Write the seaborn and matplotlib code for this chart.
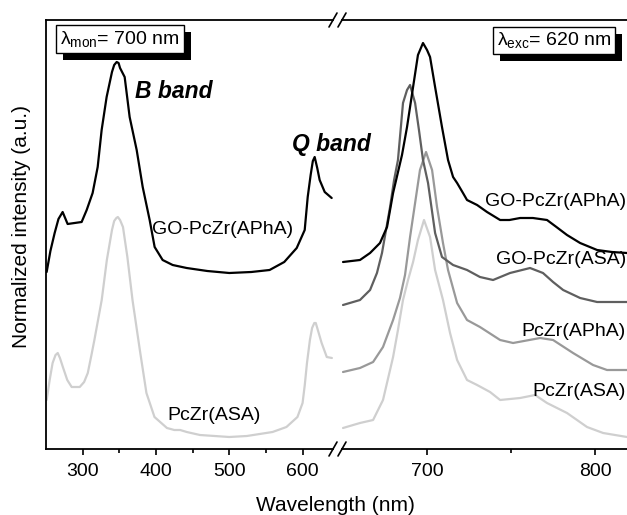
import numpy as np
import pandas as pd
import matplotlib
matplotlib.use('Agg')
import matplotlib.pyplot as plt
import seaborn as sns
from matplotlib import patheffects as pe
from matplotlib.lines import Line2D

# ---------------- data ----------------
# Excitation spectra, left panel (lambda_mon = 700 nm)
exc_go_apha_wl = [250.9, 256, 261.8, 267, 272.7, 279.5, 289, 298.6, 305.5, 313.6, 320.5, 325.9,
                  332.7, 340, 343, 346.4, 349, 351, 357.3, 364.1, 373.7, 381.9, 391.4, 398.2,
                  409.1, 422.8, 441.9, 470, 500, 530, 555, 575, 592, 602.9, 607, 611, 614,
                  616.5, 620, 623.3, 630.2, 639.7]
exc_go_apha = [1.77, 1.98, 2.16, 2.30, 2.37, 2.25, 2.26, 2.27, 2.39, 2.56, 2.82, 3.19,
               3.52, 3.77, 3.84, 3.87, 3.86, 3.81, 3.72, 3.32, 2.99, 2.62, 2.29, 2.02,
               1.89, 1.84, 1.81, 1.78, 1.76, 1.77, 1.79, 1.87, 2.01, 2.19, 2.52, 2.74, 2.88,
               2.92, 2.81, 2.69, 2.57, 2.51]

exc_asa_wl = [250.9, 255, 259, 263, 266, 269, 273, 279, 285, 296, 302, 307, 312, 316, 321, 326,
              333, 340, 343, 346, 348, 351, 355, 361, 368, 378, 387, 398, 415, 425, 433, 442,
              460, 500, 524, 559, 578, 593, 600, 603, 606, 610, 613, 616, 618, 622, 626, 633, 640]
exc_asa = [0.49, 0.69, 0.86, 0.94, 0.96, 0.91, 0.82, 0.69, 0.62, 0.62, 0.67, 0.76, 0.94, 1.09,
           1.29, 1.49, 1.89, 2.19, 2.28, 2.31, 2.32, 2.29, 2.22, 1.92, 1.49, 0.99, 0.56, 0.32,
           0.21, 0.19, 0.19, 0.17, 0.14, 0.12, 0.13, 0.17, 0.22, 0.32, 0.46, 0.64, 0.86, 1.09,
           1.21, 1.26, 1.26, 1.16, 1.06, 0.92, 0.91]

# Emission spectra, right panel (lambda_exc = 620 nm)
em_go_apha_wl = [650.0, 660.1, 666.1, 672.0, 676.2, 679.8, 685.1, 688.1, 691.7, 694.6, 697.6,
                 700.0, 701.8, 704.8, 708.9, 712.5, 715.5, 717.9, 721.4, 723.8, 729.8, 735.7,
                 743.5, 749.0, 755.4, 763.0, 771.4, 777.0, 783.3, 791.1, 801.2, 810.0, 819.0]
em_go_apha = [1.87, 1.89, 1.96, 2.06, 2.22, 2.56, 2.94, 3.22, 3.62, 3.94, 4.06,
              3.99, 3.92, 3.62, 3.22, 2.89, 2.72, 2.66, 2.56, 2.49, 2.44, 2.37,
              2.29, 2.29, 2.31, 2.31, 2.29, 2.22, 2.14, 2.06, 1.99, 1.97, 1.96]

em_go_asa_wl = [650.0, 660.1, 666.1, 670.2, 673.2, 675.6, 678.0, 680.4, 682.7, 685.7, 688.1,
                689.9, 692.9, 695.2, 697.6, 700.6, 704.8, 708.9, 715.5, 723.8, 731.5, 739.3,
                749.4, 761.3, 769.0, 775.0, 781.0, 791.1, 801.2, 819.0]
em_go_asa = [1.44, 1.49, 1.59, 1.76, 1.96, 2.19, 2.42, 2.69, 2.89, 3.46, 3.59,
             3.64, 3.46, 3.19, 2.89, 2.66, 2.16, 1.92, 1.84, 1.79, 1.72, 1.69,
             1.76, 1.81, 1.76, 1.67, 1.59, 1.51, 1.47, 1.47]

em_apha_wl = [650.0, 660.1, 667.9, 673.8, 679.8, 683.9, 686.9, 689.9, 692.9, 695.8, 699.4,
              703.0, 705.95, 709.5, 712.5, 717.9, 723.8, 731.5, 743.5, 751.2, 767.3, 775.0,
              786.9, 798.8, 807.1, 819.0]
em_apha = [0.77, 0.81, 0.87, 1.02, 1.29, 1.51, 1.74, 2.12, 2.46, 2.79, 2.97,
           2.79, 2.42, 2.06, 1.79, 1.46, 1.29, 1.22, 1.09, 1.06, 1.11, 1.09,
           0.96, 0.84, 0.79, 0.79]

em_asa_wl = [650.0, 660.1, 667.9, 673.8, 679.8, 682.7, 685.7, 688.7, 691.7, 694.6, 698.2,
             701.8, 704.8, 709.5, 713.7, 717.9, 723.8, 729.8, 737.5, 743.5, 755.4, 764.3,
             771.4, 783.3, 795.2, 804.8, 819.0]
em_asa = [0.21, 0.26, 0.29, 0.49, 0.92, 1.19, 1.49, 1.69, 1.87, 2.09, 2.29,
          2.12, 1.79, 1.49, 1.16, 0.89, 0.69, 0.64, 0.57, 0.49, 0.51, 0.54,
          0.46, 0.36, 0.22, 0.16, 0.12]

left_ticks = [300, 400, 500, 600]
left_minor = [350, 450, 550]
right_ticks = [700, 800]
right_minor = [750]

# ---------------- style ----------------
sns.set_theme(style='ticks')
plt.rcParams['font.family'] = ['Liberation Sans', 'DejaVu Sans']
plt.rcParams['mathtext.fontset'] = 'custom'
plt.rcParams['mathtext.rm'] = 'Liberation Sans'
plt.rcParams['mathtext.it'] = 'Liberation Sans:italic'
plt.rcParams['axes.linewidth'] = 1.3
plt.rcParams['text.color'] = 'black'
plt.rcParams['xtick.color'] = 'black'
plt.rcParams['axes.labelcolor'] = 'black'

C_BLACK = '#000000'
C_DARK = '#5f5f5f'
C_MED = '#999999'
C_LIGHT = '#cfcfcf'
LW = 1.6

W, H = 627, 515
fig = plt.figure(figsize=(W / 100, H / 100), dpi=100)
ax2 = fig.add_axes([342 / W, 66 / H, 285 / W, 429 / H])
ax1 = fig.add_axes([46 / W, 66 / H, 287 / W, 429 / H])
ax1.patch.set_visible(False)
ax2.patch.set_visible(False)

def draw(ax, wl, val, color):
    df = pd.DataFrame({'wl': wl, 'val': val})
    sns.lineplot(data=df, x='wl', y='val', ax=ax, color=color, lw=LW,
                 estimator=None, sort=False)

draw(ax1, exc_asa_wl, exc_asa, C_LIGHT)
draw(ax1, exc_go_apha_wl, exc_go_apha, C_BLACK)
draw(ax2, em_asa_wl, em_asa, C_LIGHT)
draw(ax2, em_apha_wl, em_apha, C_MED)
draw(ax2, em_go_asa_wl, em_go_asa, C_DARK)
draw(ax2, em_go_apha_wl, em_go_apha, C_BLACK)

ax1.set_xlim(250, 641.5)
ax2.set_xlim(649.4, 819.0)
for ax in (ax1, ax2):
    ax.set_ylim(0, 4.29)
    ax.set_xlabel('')
    ax.set_ylabel('')
    ax.set_yticks([])
    ax.tick_params(axis='x', which='major', direction='out', length=4, width=1.2,
                   labelsize=14, pad=6, colors='black')
    ax.tick_params(axis='x', which='minor', direction='out', length=3, width=1.2)
    for s in ax.spines.values():
        s.set_color('black')
        s.set_linewidth(1.3)

ax1.set_xticks(left_ticks)
ax1.set_xticks(left_minor, minor=True)
ax2.set_xticks(right_ticks)
ax2.set_xticks(right_minor, minor=True)
ax1.spines['right'].set_visible(False)
ax2.spines['left'].set_visible(False)
ax2.spines['right'].set_visible(False)

# axis-break marks
for xc in (333, 342):
    for yc in (20, 449):
        fig.add_artist(Line2D([(xc - 4) / W, (xc + 4) / W], [1 - (yc + 7) / H, 1 - (yc - 7) / H],
                              transform=fig.transFigure, color='black', lw=1.2))

# curve labels
ax1.text(395, 2.19, 'GO-PcZr(APhA)', fontsize=14, ha='left', va='center')
ax1.text(416, 0.34, 'PcZr(ASA)', fontsize=14, ha='left', va='center')
ax1.text(371, 3.57, 'B band', fontsize=16.5, fontweight='bold', fontstyle='italic',
         ha='left', va='center')
ax1.text(585, 3.05, 'Q band', fontsize=16.5, fontweight='bold', fontstyle='italic',
         ha='left', va='center', clip_on=False)

xr = (626 - 342) / 285
for lab, yv in [('GO-PcZr(APhA)', 2.47), ('GO-PcZr(ASA)', 1.89),
                ('PcZr(APhA)', 1.17), ('PcZr(ASA)', 0.57)]:
    ax2.text(xr, yv, lab, fontsize=14, ha='right', va='center',
             transform=ax2.get_yaxis_transform())

# boxed annotations with shadow
def shadow_box(x, y, s):
    t = fig.text(x, y, s, fontsize=14, ha='center', va='center', zorder=10,
                 bbox=dict(boxstyle='square,pad=0.2', fc='white', ec='black', lw=1.0))
    t.get_bbox_patch().set_path_effects([
        pe.SimplePatchShadow(offset=(5, -5), shadow_rgbFace='black', alpha=1.0),
        pe.Normal()])
    return t

shadow_box(120 / W, 1 - 39 / H, r'$\mathrm{\lambda}_{\mathrm{mon}}$= 700 nm')
shadow_box(554 / W, 1 - 40.5 / H, r'$\mathrm{\lambda}_{\mathrm{exc}}$= 620 nm')

# axis titles
fig.text(22 / W, 1 - 226 / H, 'Normalized intensity (a.u.)', rotation=90,
         fontsize=15, ha='center', va='center')
fig.text(335 / W, 1 - 511 / H, 'Wavelength (nm)', fontsize=15, ha='center', va='baseline')

fig.savefig('out.png', dpi=100)
